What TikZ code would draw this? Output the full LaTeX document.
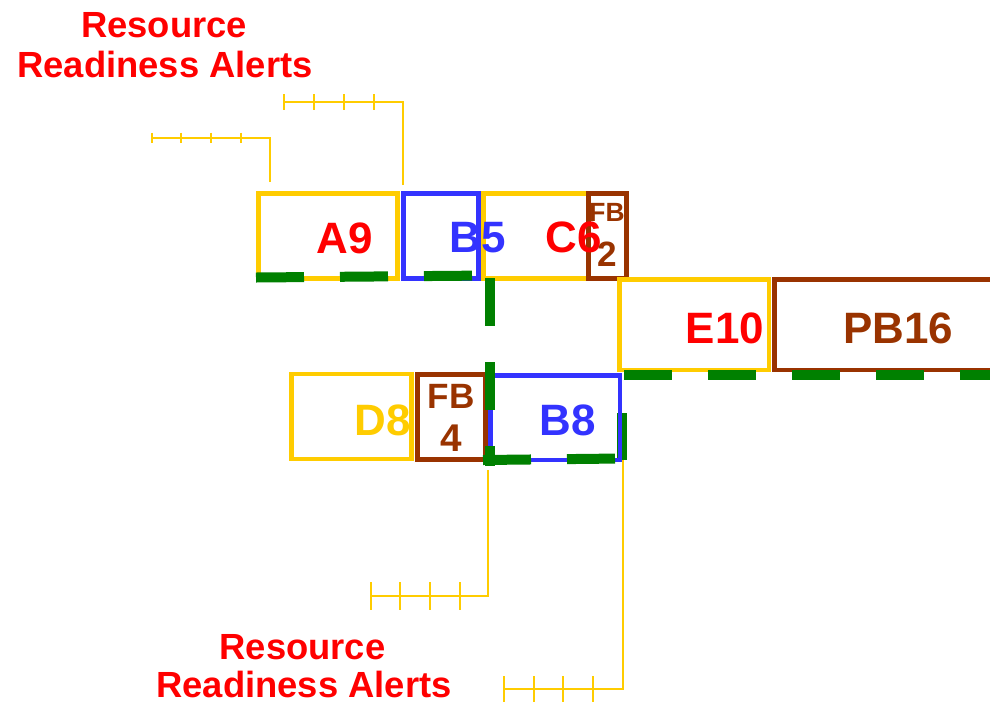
\documentclass[tikz,border=0pt]{standalone}
\usepackage{fontspec}
\setmainfont{Liberation Sans}
\usepackage{tikz}
\definecolor{gold}{HTML}{FFCC00}
\definecolor{alertred}{HTML}{FF0000}
\definecolor{slotblue}{HTML}{3333FF}
\definecolor{rust}{HTML}{993300}
\definecolor{pathgreen}{HTML}{008000}
\tikzset{
    slot/.style={draw=#1, line width=0.94mm, inner sep=0pt},
    tag/.style={text=#1, font=\bfseries\fontsize{25}{30}\selectfont,
                inner sep=0pt, text height=17.9pt, text depth=0pt},
    smalltag/.style={font=\bfseries\fontsize{#1}{#1}\selectfont,
                text height=0.716*#1 pt},
    heading/.style={text=alertred, font=\bfseries\fontsize{20.7}{24}\selectfont,
                inner sep=0pt, text depth=0pt, anchor=base},
    alert/.style={draw=gold, line width=0.4mm},
    critical/.style={draw=pathgreen, line width=2mm, dash pattern=on 9.6mm off 7.2mm}
}

\begin{document}
\begin{tikzpicture}[x=0.2mm,y=-0.2mm]
    \clip (0,0) rectangle (990,702);

    \coordinate (a9hook) at (269.5,182);
    \coordinate (b5hook) at (402.7,185);
    \coordinate (fb4hook) at (488.3,470);
    \coordinate (b8hook) at (623.3,460);

    % resource readiness scales
    \draw[alert] (a9hook) |- (151.5,137.5)
        (151.5,132.5) -- (151.5,142.5) (181,132.5) -- (181,142.5)
        (210.7,132.5) -- (210.7,142.5) (240.5,132.5) -- (240.5,142.5);
    \draw[alert] (b5hook) |- (284.3,102.3)
        (284.3,94.3) -- (284.3,110.3) (314,94.3) -- (314,110.3)
        (343.7,94.3) -- (343.7,110.3) (373.7,94.3) -- (373.7,110.3);
    \draw[alert] (fb4hook) |- (370.7,596)
        (370.7,582) -- (370.7,610) (400.3,582) -- (400.3,610)
        (430,582) -- (430,610) (460,582) -- (460,610);
    \draw[alert] (b8hook) |- (504,688.7)
        (504,676) -- (504,702) (533.7,676) -- (533.7,702)
        (563.3,676) -- (563.3,702) (593.3,676) -- (593.3,702);

    \draw[critical] (622,460) -- (622,413);

    \node[slot=gold, minimum width=27.84mm, minimum height=17mm] (a9) at (327.9,235.8) {};
    \node[slot=slotblue, minimum width=15mm, minimum height=17mm] (b5) at (440.8,235.8) {};
    \node[slot=gold, minimum width=21mm, minimum height=17mm] (c6) at (535.8,235.8) {};
    \node[slot=rust, minimum width=7.6mm, minimum height=17mm] (fb2) at (607.3,235.8) {};
    \node[slot=gold, minimum width=29.94mm, minimum height=18.08mm] (e10) at (694.2,324.8) {};
    \node[slot=rust, minimum width=45.14mm, minimum height=18.08mm] (pb16) at (887.2,324.8) {};
    \node[slot=gold, minimum width=24mm, minimum height=17mm] (d8) at (351.7,416.5) {};
    \node[slot=rust, minimum width=13.68mm, minimum height=17mm] (fb4) at (451.5,417.2) {};
    \node[slot=slotblue, minimum width=25.94mm, minimum height=16.86mm] (b8) at (555.2,417.9) {};

    % critical chain
    \draw[critical] (256,277.5) -- (490,275.5);
    \draw[critical] (489.5,278) -- (489.5,466);
    \draw[critical] (483,460) -- (621,458.5);
    \draw[critical] (624,375) -- (995,375);

    \node[tag=alertred] (a9txt) at (344.5,238) {A9};
    \node[tag=slotblue] (b5txt) at (478,237) {B5};
    \node[tag=alertred] (c6txt) at (574,237) {C6};
    \node[tag=rust, smalltag=15] (fb2top) at (607,212.3) {FB};
    \node[tag=rust, smalltag=20] (fb2num) at (607,254.2) {2};
    \node[tag=alertred] (e10txt) at (725,328) {E10};
    \node[tag=rust] (pb16txt) at (898,328) {PB16};
    \node[tag=gold] (d8txt) at (383,420) {D8};
    \node[tag=rust, smalltag=20] (fb4top) at (451,396) {FB};
    \node[tag=rust, smalltag=22] (fb4num) at (451.7,438) {4};
    \node[tag=slotblue] (b8txt) at (568,419.5) {B8};

    \node[heading] (toplinea) at (164,37.7) {Resource};
    \node[heading] (toplineb) at (165,77.7) {Readiness Alerts};
    \node[heading] (botlinea) at (302.5,659.3) {Resource};
    \node[heading] (botlineb) at (304,697.2) {Readiness Alerts};
\end{tikzpicture}
\end{document}
